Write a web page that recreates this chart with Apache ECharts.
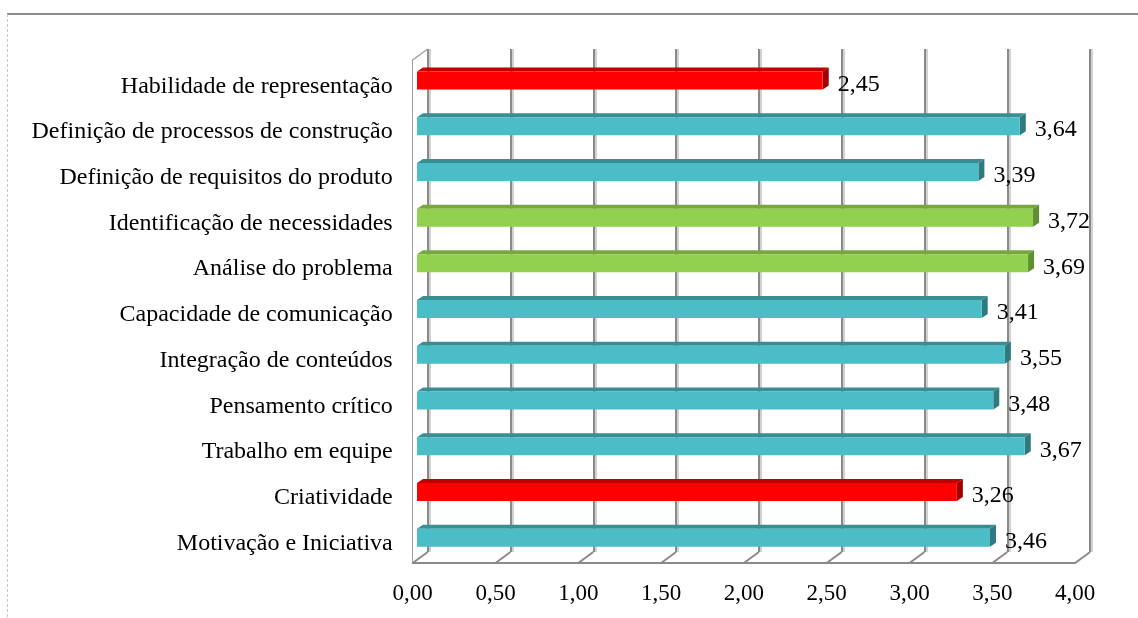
<!DOCTYPE html>
<html>
<head>
<meta charset="utf-8">
<script src="https://cdn.jsdelivr.net/npm/echarts@6/dist/echarts.min.js"></script>
<style>
html,body{margin:0;padding:0;background:#fff;}
#chart{width:1138px;height:618px;}
</style>
</head>
<body>
<div id="chart"></div>
<script>
// ---- data ----
const categories = [
  'Habilidade de representação',
  'Definição de processos de construção',
  'Definição de requisitos do produto',
  'Identificação de necessidades',
  'Análise do problema',
  'Capacidade de comunicação',
  'Integração de conteúdos',
  'Pensamento crítico',
  'Trabalho em equipe',
  'Criatividade',
  'Motivação e Iniciativa'
];
const values = [2.45, 3.64, 3.39, 3.72, 3.69, 3.41, 3.55, 3.48, 3.67, 3.26, 3.46];
const groups = ['low', 'mid', 'mid', 'high', 'high', 'mid', 'mid', 'mid', 'mid', 'low', 'mid'];
const tickValues = [0, 0.5, 1, 1.5, 2, 2.5, 3, 3.5, 4];

// ---- style ----
const palette = {
  low:  {front: '#FF0000', top: '#C00000', side: '#A00000'},
  mid:  {front: '#4BBDC7', top: '#3A8E93', side: '#2E7A7F'},
  high: {front: '#92D050', top: '#76A83F', side: '#5F8F2E'}
};
const fmt = v => v.toFixed(2).replace('.', ',');
const FONT = '"Liberation Serif", "Times New Roman", serif';
const DX = 15, DY = 11;     // wall depth
const BDX = 6, BDY = 4;     // bar depth
const BAR_H = 18;

const chart = echarts.init(document.getElementById('chart'), null, {renderer: 'canvas'});

const option = {
  animation: false,
  backgroundColor: '#fff',
  graphic: [
    {type: 'line', shape: {x1: 7, y1: 14, x2: 1138, y2: 14}, style: {stroke: '#8c8c8c', lineWidth: 2}},
    {type: 'line', shape: {x1: 7.5, y1: 14, x2: 7.5, y2: 618}, style: {stroke: '#c8c8c8', lineWidth: 1, lineDash: [3, 2]}}
  ],
  grid: [
    {left: 427.7, top: 49, width: 662.4, height: 503},   // back wall
    {left: 412.7, top: 60, width: 662.4, height: 503},   // front plane
    {left: 417, top: 57.6, width: 662.4, height: 503},   // bars
    {left: 412.7, top: 63.4, width: 662.4, height: 503}  // category labels
  ],
  xAxis: [
    {gridIndex: 0, type: 'value', min: 0, max: 4, interval: 0.5,
     axisLine: {show: false}, axisTick: {show: false}, axisLabel: {show: false},
     splitLine: {show: true, lineStyle: {color: '#8a8a8a', width: 2, shadowColor: 'rgba(0,0,0,0.18)', shadowOffsetX: 2, shadowBlur: 0}}},
    {gridIndex: 1, type: 'value', min: 0, max: 4, interval: 0.5,
     axisLine: {show: true, lineStyle: {color: '#8a8a8a', width: 2}}, axisTick: {show: false},
     splitLine: {show: false},
     axisLabel: {show: true, margin: 19, formatter: v => fmt(v), color: '#000', fontFamily: FONT, fontSize: 23}},
    {gridIndex: 2, type: 'value', min: 0, max: 4, interval: 0.5, show: false},
    {gridIndex: 3, type: 'value', min: 0, max: 4, interval: 0.5, show: false}
  ],
  yAxis: [
    {gridIndex: 0, type: 'category', data: categories, inverse: true, show: false},
    {gridIndex: 1, type: 'category', data: categories, inverse: true,
     axisLine: {show: true, lineStyle: {color: '#a0a0a0', width: 1}}, axisTick: {show: false},
     axisLabel: {show: false}},
    {gridIndex: 2, type: 'category', data: categories, inverse: true, show: false},
    {gridIndex: 3, type: 'category', data: categories, inverse: true,
     axisLine: {show: false}, axisTick: {show: false}, splitLine: {show: false},
     axisLabel: {show: true, margin: 20, color: '#000', fontFamily: FONT, fontSize: 24}}
  ],
  series: [
    {
      type: 'custom',
      xAxisIndex: 0, yAxisIndex: 0,
      data: tickValues.map(t => [t, 0]),
      silent: true,
      renderItem: function (params, api) {
        const cs = params.coordSys;
        const x = api.coord([api.value(0), 0])[0];
        const yb = cs.y + cs.height;
        const children = [
          {type: 'line', shape: {x1: x, y1: yb, x2: x - DX, y2: yb + DY}, style: {stroke: '#8a8a8a', lineWidth: 2}}
        ];
        if (params.dataIndex === 0) {
          children.push({type: 'line', shape: {x1: x, y1: cs.y, x2: x - DX, y2: cs.y + DY}, style: {stroke: '#a0a0a0', lineWidth: 1.5}});
        }
        return {type: 'group', children: children};
      }
    },
    {
      type: 'custom',
      xAxisIndex: 2, yAxisIndex: 2,
      data: values.map((v, i) => [v, i]),
      encode: {x: 0, y: 1},
      renderItem: function (params, api) {
        const v = api.value(0);
        const cat = api.value(1);
        const p0 = api.coord([0, cat]);
        const p1 = api.coord([v, cat]);
        const c = palette[groups[params.dataIndex]];
        const yT = p0[1] - BAR_H / 2, yB = p0[1] + BAR_H / 2;
        return {type: 'group', children: [
          {type: 'polygon', shape: {points: [[p0[0], yT], [p0[0] + BDX, yT - BDY], [p1[0] + BDX, yT - BDY], [p1[0], yT]]}, style: {fill: c.top}},
          {type: 'polygon', shape: {points: [[p1[0], yT], [p1[0] + BDX, yT - BDY], [p1[0] + BDX, yB - BDY], [p1[0], yB]]}, style: {fill: c.side}},
          {type: 'rect', shape: {x: p0[0], y: yT, width: p1[0] - p0[0], height: BAR_H}, style: {fill: c.front}},
          {type: 'text', style: {text: fmt(v), x: p1[0] + 15, y: p0[1] + 4, font: '24px ' + FONT, verticalAlign: 'middle', align: 'left', fill: '#000'}}
        ]};
      }
    }
  ]
};
chart.setOption(option);
</script>
</body>
</html>
